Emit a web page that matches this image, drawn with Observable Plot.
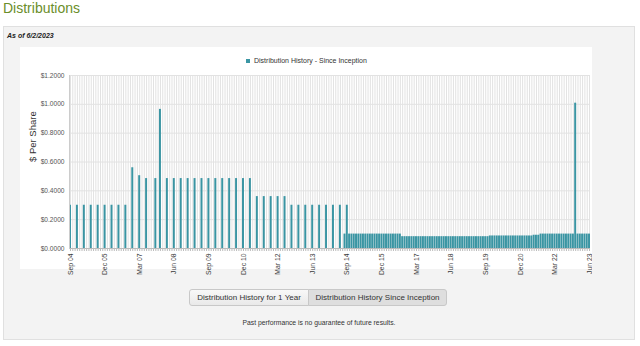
<!DOCTYPE html>
<html><head><meta charset="utf-8">
<script src="https://cdn.jsdelivr.net/npm/d3@7"></script>
<script src="https://cdn.jsdelivr.net/npm/@observablehq/plot@0.6"></script>
<style>
body{margin:0;width:640px;height:346px;background:#fff;font-family:"Liberation Sans",Arial,sans-serif;position:relative;overflow:hidden}
#title{position:absolute;left:3px;top:0px;font-size:14px;color:#6b8e2a;line-height:17px;white-space:nowrap}
#panel{position:absolute;left:3px;top:26px;width:632px;height:314px;background:#f3f3f3;border:1px solid #e0e0e0;box-sizing:border-box}
#asof{position:absolute;left:7px;top:32px;font-size:7px;font-weight:bold;font-style:italic;color:#222;white-space:nowrap}
#chartbox{position:absolute;left:20px;top:47px;width:572px;height:222px;background:#fff}
#chart{position:absolute;left:20px;top:47px}
#legend{position:absolute;left:246px;top:57px;font-size:7px;color:#333;white-space:nowrap;line-height:8px}
#legend span.sw{display:inline-block;width:4px;height:4px;background:#3b96a4;margin-right:4px;vertical-align:0px}
.btn{position:absolute;top:289px;height:17px;box-sizing:border-box;border:1px solid #c8c8c8;font-size:8px;color:#333;line-height:15px;text-align:center;white-space:nowrap}
#b1{left:189px;width:120px;background:linear-gradient(#f8f8f8,#e9e9e9);border-radius:3px 0 0 3px}
#b2{left:308px;width:139px;background:#dedede;border-radius:0 3px 3px 0}
#foot{position:absolute;left:0;width:638px;top:319px;text-align:center;font-size:6.8px;color:#333;white-space:nowrap}
</style></head>
<body>
<div id="title">Distributions</div>
<div id="panel"></div>
<div id="asof">As of 6/2/2023</div>
<div id="chartbox"></div>
<div id="chart"></div>
<div id="legend"><span class="sw"></span>Distribution History - Since Inception</div>
<div class="btn" id="b1">Distribution History for 1 Year</div>
<div class="btn" id="b2">Distribution History Since Inception</div>
<div id="foot">Past performance is no guarantee of future results.</div>
<script>
// Axis labels shown on the month axis
const tickLabels = ["Sep 04","Dec 05","Mar 07","Jun 08","Sep 09","Dec 10","Mar 12","Jun 13","Sep 14","Dec 15","Mar 17","Jun 18","Sep 19","Dec 20","Mar 22","Jun 23"];
const yTicks = [0, 0.2, 0.4, 0.6, 0.8, 1.0, 1.2];

// Quarterly era (pay month -> amount)
const quarterDates = ["2004-09","2004-12","2005-03","2005-06","2005-09","2005-12","2006-03","2006-06","2006-09",
  "2006-12","2007-03","2007-06","2007-10","2007-12",
  "2008-03","2008-06","2008-09","2008-12","2009-03","2009-06","2009-09","2009-12","2010-03","2010-06","2010-09","2010-12","2011-03",
  "2011-06","2011-09","2011-12","2012-03","2012-06",
  "2012-09","2012-12","2013-03","2013-06","2013-09","2013-12","2014-03","2014-06",
  "2014-08","2014-09"];
const quarterAmounts = [0.30,0.30,0.30,0.30,0.30,0.30,0.30,0.30,0.30,
  0.56,0.505,0.485,0.485,0.965,
  0.485,0.485,0.485,0.485,0.485,0.485,0.485,0.485,0.485,0.485,0.485,0.485,0.485,
  0.36,0.36,0.36,0.36,0.36,
  0.30,0.30,0.30,0.30,0.30,0.30,0.30,0.30,
  0.10,0.30];

// Monthly era, Oct 2014 .. Jun 2023 (one amount per month)
const monthlyStart = "2014-10";
const monthlyAmounts = [
  0.10,0.10,0.10,                                                  // 2014 Oct-Dec
  0.10,0.10,0.10,0.10,0.10,0.10,0.10,0.10,0.10,0.10,0.10,0.10,     // 2015
  0.10,0.10,0.10,0.10,0.10,0.10,0.10,0.10,0.082,0.082,0.082,0.082, // 2016
  0.082,0.082,0.082,0.082,0.082,0.082,0.082,0.082,0.082,0.082,0.082,0.082, // 2017
  0.082,0.082,0.082,0.082,0.082,0.082,0.082,0.082,0.082,0.082,0.082,0.082, // 2018
  0.082,0.082,0.082,0.082,0.082,0.082,0.082,0.082,0.082,0.082,0.087,0.087, // 2019
  0.087,0.087,0.087,0.087,0.087,0.087,0.087,0.087,0.087,0.087,0.087,0.087, // 2020
  0.087,0.087,0.087,0.087,0.087,0.092,0.092,0.092,0.10,0.10,0.10,0.10,     // 2021
  0.10,0.10,0.10,0.10,0.10,0.10,0.10,0.10,0.10,0.10,0.10,1.008,            // 2022
  0.10,0.10,0.10,0.10,0.10,0.10                                            // 2023 Jan-Jun
];

const parseKey = d3.utcParse("%Y-%m");
const keyFmt = d3.utcFormat("%Y-%m");
const labelFmt = d3.utcFormat("%b %y");
const monthKeys = d3.utcMonth.range(parseKey("2004-09"), parseKey("2023-07")).map(keyFmt);

const data = quarterDates.map((k, i) => ({key: k, value: quarterAmounts[i]}));
const mStart = parseKey(monthlyStart);
monthlyAmounts.forEach((v, i) => data.push({key: keyFmt(d3.utcMonth.offset(mStart, i)), value: v}));

const tf = k => { const l = labelFmt(parseKey(k)); return tickLabels.includes(l) ? l : ""; };

const chart = Plot.plot({
  width: 572, height: 233,
  marginLeft: 49, marginRight: 2, marginTop: 28, marginBottom: 32,
  style: {background: "transparent", fontFamily: "Liberation Sans, Arial, sans-serif"},
  x: {type: "band", domain: monthKeys, paddingInner: 0.15, paddingOuter: 0, axis: null},
  y: {domain: [0, 1.2], axis: null},
  marks: [
    Plot.gridX({stroke: "#e2e2e2", strokeOpacity: 1}),
    Plot.gridY(yTicks, {stroke: "#e2e2e2", strokeOpacity: 1}),
    Plot.barY(data, {x: "key", y: "value", fill: "#3a95a3"}),
    Plot.ruleY([0], {stroke: "#bbb"}),
    Plot.frame({anchor: "left", stroke: "#ccc"}),
    Plot.axisX({tickRotate: -90, tickSize: 3, tickPadding: 2, tickFormat: tf, fontSize: 6.8, fill: "#3a3a3a", stroke: "#bbb", label: null}),
    Plot.axisY(yTicks, {tickSize: 0, tickPadding: 5, tickFormat: d => "$" + d.toFixed(4), fontSize: 6.6, fill: "#555", label: null}),
    Plot.text(["$ Per Share"], {frameAnchor: "left", rotate: -90, dx: -37, fontSize: 9.5, fill: "#333"})
  ]
});
document.getElementById("chart").appendChild(chart);
</script>
</body></html>
